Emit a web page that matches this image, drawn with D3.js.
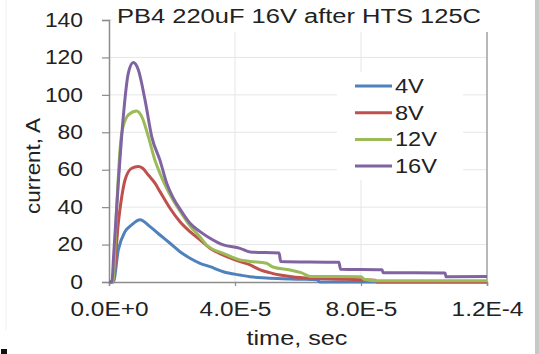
<!DOCTYPE html>
<html>
<head>
<meta charset="utf-8">
<script src="https://cdn.jsdelivr.net/npm/d3@7"></script>
<style>
  body { margin: 0; background: #fff; }
  text { font-family: "Liberation Sans", Arial, sans-serif; fill: #222; }
</style>
</head>
<body>
<div id="container"></div>
<script>
// values: [time in microseconds, current in A]
const series4V = [[0,0],[1.37,0],[2.95,17.1],[5.08,26.9],[7.21,30.5],[9.84,33.2],[13.02,29.6],[16.19,25.1],[19.37,20.7],[22.54,16.2],[25.72,12.7],[28.9,10],[32.07,8.2],[36.3,5.5],[41.6,3.7],[44.8,2.8],[50,2.2],[55,1.8],[60,1.5],[66,1.2],[67,0],[120,0]];
const series8V = [[0,0],[1.2,0],[2.95,31.4],[4,45],[5.08,54.5],[7.21,60.8],[9.3,61.7],[10.5,61],[12.48,57.2],[14.6,52.8],[16.19,48.3],[19.37,39.4],[22.54,32.2],[25.72,26.9],[28.9,22.5],[32.07,18],[36.3,14.4],[41.6,10.9],[44.8,9.1],[48,6.5],[51,5],[54.3,3.7],[58,2.8],[64,2],[75,1.5],[84.5,1],[85,0],[120,0]];
const series12V = [[0,0],[1.2,0],[2.44,40],[3.49,70.6],[4.03,79.5],[6.13,89.3],[8.79,91.4],[10.5,88],[12.48,77.7],[14.6,65],[16.19,58],[18.32,50],[20.42,43.5],[23.08,36.5],[25.72,30],[28.9,24],[31,19.8],[36.3,15.3],[41.6,11.8],[44.8,11],[50,10],[52,8],[57.5,6.4],[61,5],[64,3],[80,2.8],[81,1.5],[85,0.7],[120,0.7]];
const series16V = [[0,0],[0.9,0],[1.5,15],[2.95,52.8],[4.54,88.4],[6.13,111.6],[7.72,117.3],[9.3,113.4],[11.43,97.3],[13.56,77.7],[16.19,65],[18.32,52.8],[20.42,44.8],[23.08,37.6],[25.72,31.4],[28.9,26.9],[32.07,23.4],[36.3,19.8],[41.6,18],[44.8,16],[54,15.5],[54.5,11],[73,10.5],[73.5,6.8],[86.7,6.5],[87,5],[106.7,4.8],[107,2.8],[120,3]];

const seriesNames = ["4V", "8V", "12V", "16V"];
const seriesData = [series4V, series8V, series12V, series16V];
const seriesColors = ["#4f81bd", "#c0504d", "#9bbb59", "#8064a2"];

const xTicks = [0, 4e-5, 8e-5, 1.2e-4];
const xTickLabels = ["0.0E+0", "4.0E-5", "8.0E-5", "1.2E-4"];
const yTicks = [0, 20, 40, 60, 80, 100, 120, 140];

const title = "PB4 220uF 16V after HTS 125C";
const xTitle = "time, sec";
const yTitle = "current, A";

const width = 539, height = 354;
const fontSize = 19.5;
const svg = d3.select("#container").append("svg")
  .attr("width", width).attr("height", height);

// the source picture is stretched sideways, so widen the glyphs
const widen = (sel, k) => sel.each(function () {
  const w = this.getComputedTextLength();
  d3.select(this).attr("textLength", w * k).attr("lengthAdjust", "spacingAndGlyphs");
});

const x = d3.scaleLinear([0, 1.2e-4], [109, 487]);
const y = d3.scaleLinear([0, 140], [282, 20]);

// grid
svg.append("g").selectAll("line").data(yTicks.slice(1)).join("line")
  .attr("x1", x(0)).attr("x2", x(1.2e-4))
  .attr("y1", d => y(d)).attr("y2", d => y(d))
  .attr("stroke", "#e6e6e6");
svg.append("g").selectAll("line").data(xTicks.slice(1, 3)).join("line")
  .attr("x1", d => x(d)).attr("x2", d => x(d))
  .attr("y1", y(0)).attr("y2", y(140))
  .attr("stroke", "#e6e6e6");
svg.append("line")
  .attr("x1", x(1.2e-4)).attr("x2", x(1.2e-4))
  .attr("y1", y(0)).attr("y2", y(140))
  .attr("stroke", "#a0a0a0").attr("stroke-width", 1.5);

// axes
const yAxis = svg.append("g").attr("transform", `translate(${x(0)},0)`)
  .call(d3.axisLeft(y).tickValues(yTicks).tickSize(7).tickPadding(19));
const xAxis = svg.append("g").attr("transform", `translate(0,${y(0)})`)
  .call(d3.axisBottom(x).tickValues(xTicks).tickSize(4).tickPadding(16)
    .tickFormat((d, i) => xTickLabels[i]));
[yAxis, xAxis].forEach(g => {
  g.select(".domain").attr("stroke", "#8c8c8c").attr("stroke-width", 1.5);
  g.selectAll(".tick line").attr("stroke", "#8c8c8c").attr("stroke-width", 1.2);
  g.selectAll("text").attr("font-size", fontSize)
    .attr("font-family", "Liberation Sans, Arial, sans-serif").attr("fill", "#222");
});
widen(yAxis.selectAll("text"), 1.17);
widen(xAxis.selectAll("text"), 1.25);

// lines
const line = d3.line()
  .x(d => x(d[0] * 1e-6)).y(d => y(d[1]))
  .curve(d3.curveMonotoneX);
svg.append("g").selectAll("path").data(seriesData).join("path")
  .attr("d", line)
  .attr("fill", "none")
  .attr("stroke", (d, i) => seriesColors[i])
  .attr("stroke-width", 3)
  .attr("stroke-linejoin", "round");

// title box covers top of plot
svg.append("rect").attr("x", 112).attr("y", 0).attr("width", 380).attr("height", 32).attr("fill", "#fff");
svg.append("text").attr("x", 117).attr("y", 23).attr("font-size", fontSize)
  .attr("textLength", 364).attr("lengthAdjust", "spacingAndGlyphs").text(title);

// legend
const legend = svg.append("g");
legend.append("rect").attr("x", 337).attr("y", 72).attr("width", 126).attr("height", 108).attr("fill", "#fff");
const item = legend.selectAll("g").data(seriesNames).join("g")
  .attr("transform", (d, i) => `translate(355,${86 + i * 26.7})`);
item.append("line").attr("x1", 0).attr("x2", 37)
  .attr("stroke", (d, i) => seriesColors[i]).attr("stroke-width", 3);
widen(item.append("text").attr("x", 40).attr("y", 7).attr("font-size", fontSize).text(d => d), 1.21);

// axis titles
svg.append("text").attr("x", 297).attr("y", 345).attr("text-anchor", "middle")
  .attr("font-size", fontSize).attr("textLength", 101).attr("lengthAdjust", "spacingAndGlyphs").text(xTitle);
svg.append("text").attr("transform", "translate(40,166) rotate(-90)")
  .attr("text-anchor", "middle").attr("font-size", fontSize)
  .attr("textLength", 96).attr("lengthAdjust", "spacingAndGlyphs").text(yTitle);

// frame artefacts
svg.append("rect").attr("x", 535).attr("y", 0).attr("width", 4).attr("height", height).attr("fill", "#c8c8c8");
svg.append("line").attr("x1", 6).attr("x2", 6).attr("y1", 0).attr("y2", 330).attr("stroke", "#f0f0f0");
svg.append("rect").attr("x", 1).attr("y", 349).attr("width", 6).attr("height", 5).attr("fill", "#111");
</script>
</body>
</html>
